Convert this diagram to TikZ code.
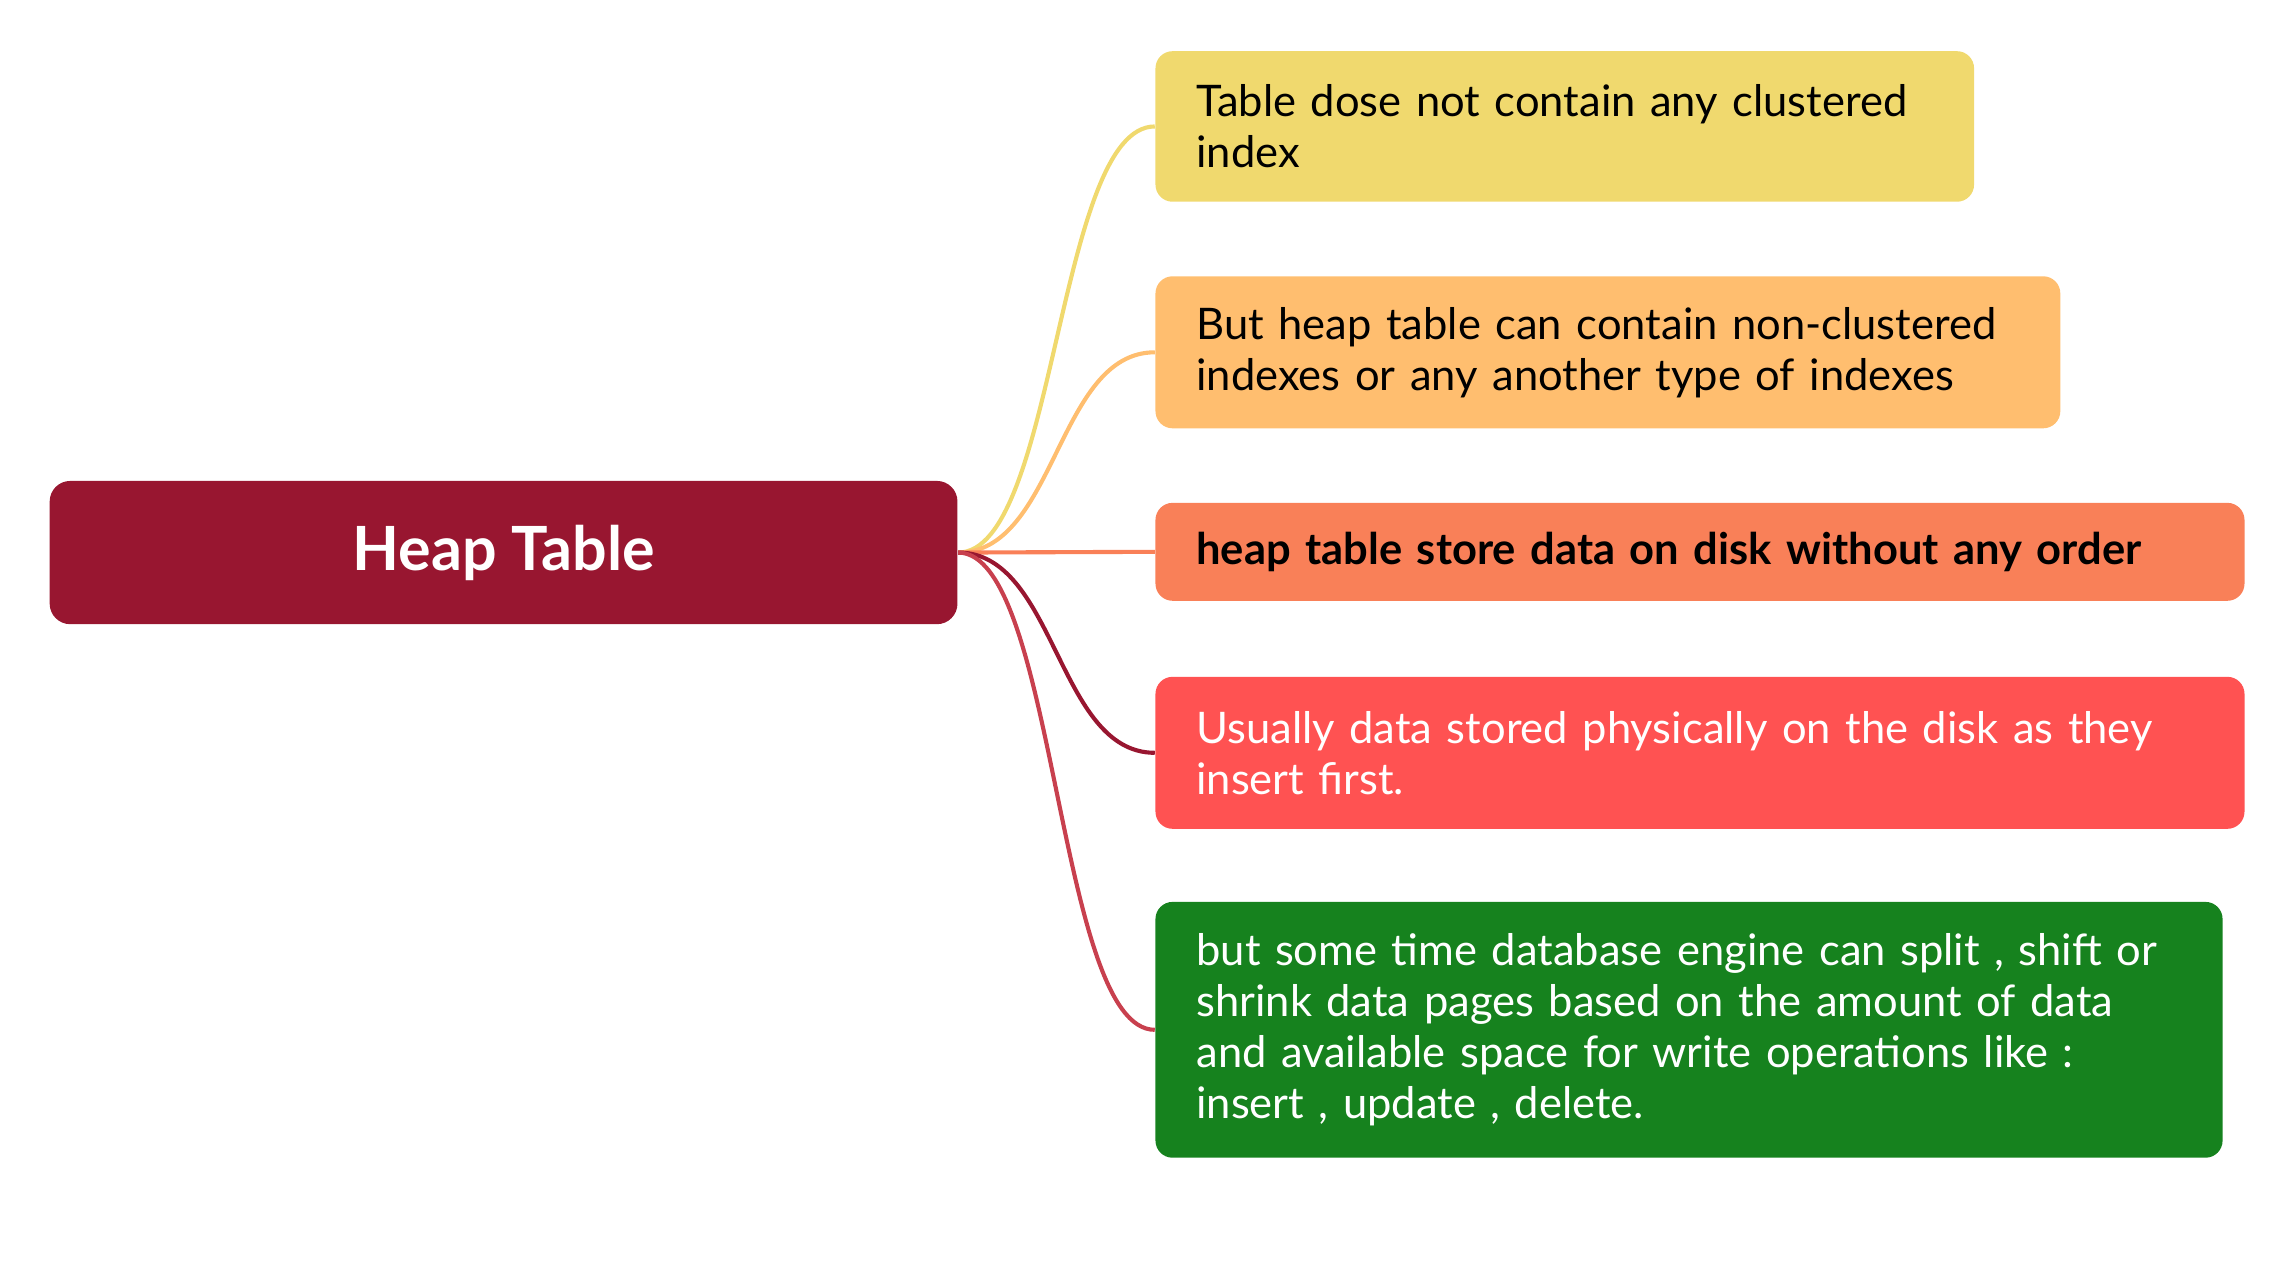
\documentclass[tikz,border=0pt]{standalone}
\usepackage{fontspec}
\setmainfont{Lato}
\usepackage{tikz}

\definecolor{heapred}{HTML}{981630}
\definecolor{sand}{HTML}{F0D96E}
\definecolor{peach}{HTML}{FFBE6F}
\definecolor{coral}{HTML}{F98058}
\definecolor{tomato}{HTML}{FF5252}
\definecolor{leaf}{HTML}{16821E}
\definecolor{rosewire}{HTML}{C8404E}

\begin{document}
\begin{tikzpicture}[
    x = 0.015cm, y = -0.015cm,
    root/.style={rounded corners=6pt, fill=heapred, text=white,
        font=\fontsize{17.8}{20}\selectfont\bfseries,
        minimum width=9.315cm, minimum height=1.47cm},
    topic/.style={anchor=west, rounded corners=5pt, align=left,
        inner xsep=0.42cm, inner ysep=0pt,
        font=\fontsize{12.7}{14.9}\selectfont},
    branch/.style={line width=1.2pt}
]
    \useasboundingbox (0,0) rectangle (1568,874);

    \node[root] (heap) at (344.5,378) {Heap Table};

    \node[topic, fill=sand, text width=7.56cm, minimum height=1.545cm] (noclust) at (790,86.5)
        {Table dose not contain any clustered\\index};
    \node[topic, fill=peach, text width=8.445cm, minimum height=1.56cm] (nonclust) at (790,241)
        {But heap table can contain non-clustered\\indexes or any another type of indexes};
    \node[topic, fill=coral, text width=10.335cm, minimum height=1.005cm, font=\fontsize{12.7}{14.9}\selectfont\bfseries] (noorder) at (790,377.5)
        {heap table store data on disk without any order};
    \node[topic, fill=tomato, text=white, text width=10.335cm, minimum height=1.56cm] (insorder) at (790,515)
        {Usually data stored physically on the disk as they\\insert first.};
    \node[topic, fill=leaf, text=white, text width=10.11cm, minimum height=2.625cm] (split) at (790,704.5)
        {but some time database engine can split , shift or\\shrink data pages based on the amount of data\\and available space for write operations like :\\insert , update , delete.};

    % branches
    \draw[branch, sand] (heap.east) .. controls +(67,0) and +(-67,0) .. (noclust.west);
    \draw[branch, peach] (heap.east) .. controls +(67,0) and +(-67,0) .. (nonclust.west);
    \draw[branch, coral] (heap.east) -- (noorder.west);
    \draw[branch, heapred] (heap.east) .. controls +(67,0) and +(-67,0) .. (insorder.west);
    \draw[branch, rosewire] (heap.east) .. controls +(67,0) and +(-67,0) .. (split.west);
\end{tikzpicture}
\end{document}
